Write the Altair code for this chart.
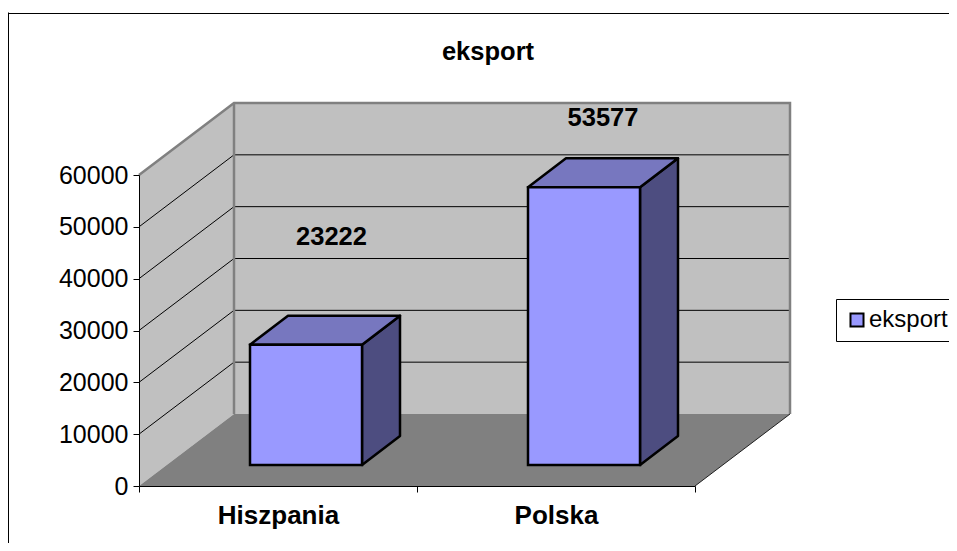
import altair as alt
import pandas as pd

# --- values
categories = ["Hiszpania", "Polska"]
values = [23222, 53577]
series_name = "eksport"
y_ticks = [0, 10000, 20000, 30000, 40000, 50000, 60000]

# --- geometry of the 3D box, in data units (1 x unit = one category)
PX_X = 278.0          # px per category
PX_Y = 311.0 / 60000  # px per value
YMAX = 60000
XMAX = len(categories)
DX = 95 / PX_X        # wall depth
DY = 72 / PX_Y
BAR_W = 112 / PX_X
BAR_DX = 38 / PX_X
BAR_DY = 29 / PX_Y
BASE_DX = 28 / PX_X   # bar offset from the front edge
BASE_DY = 21 / PX_Y
LABEL_DX = [25.5 / PX_X, 19 / PX_X]
LABEL_UP = [108 / PX_Y, 69 / PX_Y]

FONT = "Liberation Sans"
WALL, EDGE, FLOOR = "#C0C0C0", "#808080", "#808080"
FRONT, TOP, SIDE = "#9999FF", "#7777BF", "#4D4D80"

x_scale = alt.Scale(domain=[0, XMAX], nice=False, zero=False)
y_scale = alt.Scale(domain=[0, YMAX], nice=False, zero=False)
X = alt.X("x:Q", scale=x_scale, title=None)
Y = alt.Y("y:Q", scale=y_scale, title=None)


def vert_area(rows, **kw):
    """Polygon with vertical left/right edges."""
    return alt.Chart(pd.DataFrame(rows, columns=["x", "y", "y2"])).mark_area(**kw).encode(
        x=X, y=Y, y2="y2:Q")


def horiz_area(rows, **kw):
    """Polygon with horizontal top/bottom edges."""
    return alt.Chart(pd.DataFrame(rows, columns=["y", "x", "x2"])).mark_area(orient="horizontal", **kw).encode(
        y=Y, x=X, x2="x2:Q")


def polyline(rows, **kw):
    df = pd.DataFrame(rows, columns=["x", "y"]).reset_index()
    return alt.Chart(df).mark_line(**kw).encode(x=X, y=Y, order="index:O")


layers = []
# walls and floor
layers.append(vert_area([(0, 0, YMAX), (DX, DY, YMAX + DY)], color=WALL))
layers.append(vert_area([(DX, DY, YMAX + DY), (XMAX + DX, DY, YMAX + DY)], color=WALL))
layers.append(horiz_area([(0, 0, XMAX), (DY, DX, XMAX + DX)], color=FLOOR))
# gridlines
for v in y_ticks[1:-1]:
    layers.append(polyline([(0, v), (DX, v + DY), (XMAX + DX, v + DY)], color="black", strokeWidth=1))
# wall outlines
layers.append(polyline([(0, YMAX), (DX, YMAX + DY), (XMAX + DX, YMAX + DY), (XMAX + DX, DY)], color=EDGE, strokeWidth=2.5))
layers.append(polyline([(DX, DY), (DX, YMAX + DY)], color=EDGE, strokeWidth=2.5))
layers.append(polyline([(XMAX, 0), (XMAX + DX, DY)], color="#202020", strokeWidth=1))

# bars
front_rows = []
for i, v in enumerate(values):
    x0 = i + 0.5 + BASE_DX - BAR_W / 2
    x1 = x0 + BAR_W
    y0 = BASE_DY
    y1 = BASE_DY + v
    stroke = dict(stroke="black", strokeWidth=2.5, strokeJoin="round")
    layers.append(vert_area([(x1, y0, y1), (x1 + BAR_DX, y0 + BAR_DY, y1 + BAR_DY)], color=SIDE, **stroke))
    layers.append(horiz_area([(y1, x0, x1), (y1 + BAR_DY, x0 + BAR_DX, x1 + BAR_DX)], color=TOP, **stroke))
    front_rows.append({"x": x0, "x2": x1, "y": y0, "y2": y1, "series": series_name})

front = alt.Chart(pd.DataFrame(front_rows)).mark_rect(stroke="black", strokeWidth=2.5).encode(
    x=X, x2="x2:Q", y=Y, y2="y2:Q",
    color=alt.Color("series:N", scale=alt.Scale(domain=[series_name], range=[FRONT]),
                    legend=alt.Legend(orient="none", legendX=836 - 139, legendY=299 - 175, title=None,
                                      fillColor="white", strokeColor="black", padding=9,
                                      symbolType="square", symbolSize=170, symbolStrokeColor="black",
                                      symbolStrokeWidth=2, symbolFillColor=FRONT, labelFont=FONT,
                                      labelFontSize=24, labelColor="black", labelOffset=0)),
)
layers.append(front)

# value labels
lab = pd.DataFrame({
    "x": [i + 0.5 + BASE_DX + LABEL_DX[i] for i in range(len(values))],
    "y": [BASE_DY + v + LABEL_UP[i] for i, v in enumerate(values)],
    "t": [str(v) for v in values],
})
layers.append(alt.Chart(lab).mark_text(font=FONT, fontSize=25.5, fontWeight="bold", color="black",
                                       baseline="middle", align="center").encode(x=X, y=Y, text="t:N"))

# outer frame (left and top edge; the rest runs out of the window)
frame = alt.Chart(pd.DataFrame({"a": [0]})).mark_rule(color="black", strokeWidth=1)
layers.append(frame.encode(x=alt.value(-130.5), y=alt.value(-162.5), y2=alt.value(376)))
layers.append(frame.encode(x=alt.value(-130.5), x2=alt.value(818), y=alt.value(-161.5)))

# axes
labels_expr = "[" + ",".join(f"'{c}'" for c in categories) + ",''][datum.value]"
axes = alt.Chart(pd.DataFrame({"x": [0.0], "y": [0.0]})).mark_point(opacity=0).encode(
    x=alt.X("x:Q", scale=x_scale, title=None,
            axis=alt.Axis(values=list(range(XMAX + 1)), labelExpr=labels_expr, grid=False, zindex=1,
                          domainColor="black", tickColor="black", tickSize=6, labelFont=FONT,
                          labelFontSize=26, labelFontWeight="bold", labelColor="black",
                          labelOffset=PX_X / 2, labelPadding=10, labelFlush=False, labelOverlap=False)),
    y=alt.Y("y:Q", scale=y_scale, title=None,
            axis=alt.Axis(values=y_ticks, grid=False, zindex=1, format="d", domainColor="black",
                          tickColor="black", tickSize=6, labelFont=FONT, labelFontSize=25,
                          labelColor="black", labelPadding=5, labelOverlap=False, labelFlush=False)),
)
layers.append(axes)

chart = alt.layer(*layers).properties(
    width=556, height=311,
    padding={"left": 131, "top": 167, "right": 254, "bottom": 57},
    autosize=alt.AutoSizeParams(type="none"),
    background="white",
    title=alt.Title("eksport", font=FONT, fontSize=25.5, fontWeight="bold", color="black",
                    anchor="middle", dx=71, frame="group", offset=-53),
).configure_view(stroke=None)

chart.save("out.html", embed_options={"renderer": "svg", "actions": False})
